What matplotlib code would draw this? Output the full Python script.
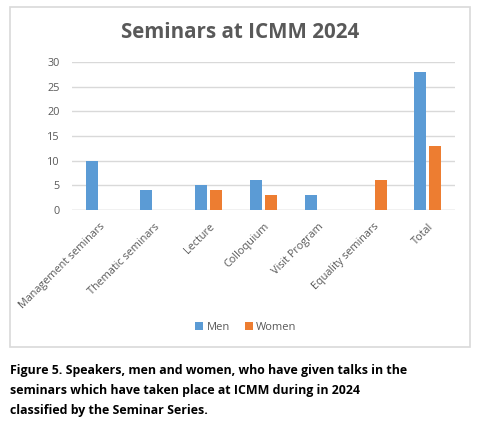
import matplotlib
matplotlib.use("Agg")
import numpy as np
from matplotlib import pyplot as plt
from matplotlib.patches import Rectangle

categories = ["Management seminars", "Thematic seminars", "Lecture", "Colloquium",
              "Visit Program", "Equality seminars", "Total"]
men = [10, 4, 5, 6, 3, 0, 28]
women = [0, 0, 4, 3, 0, 6, 13]

plt.rcParams['font.family'] = ['Open Sans', 'DejaVu Sans']

W, H = 480, 425
fig = plt.figure(figsize=(4.8, 4.25), dpi=100)

# chart frame
fig.patches.append(Rectangle((10 / W, 1 - 347 / H), 460 / W, 340 / H,
                             transform=fig.transFigure, fill=False,
                             edgecolor='#d9d9d9', linewidth=1.2))

ax = fig.add_axes([72 / W, 1 - 210 / H, 383 / W, 148 / H])
x = np.arange(len(categories))
bw = 0.22
ax.bar(x - 0.14, men, bw, color='#5b9bd5', label='Men', zorder=3)
ax.bar(x + 0.14, women, bw, color='#ed7d31', label='Women', zorder=3)

ax.set_xlim(-0.5, len(categories) - 0.5)
ax.set_ylim(0, 30)
ax.set_yticks(range(0, 31, 5))
ax.grid(axis='y', color='#d9d9d9', linewidth=1, zorder=0)
for s in ax.spines.values():
    s.set_visible(False)
ax.tick_params(length=0, colors='#595959', labelsize=7.8)
ax.tick_params(axis='y', pad=9)
ax.tick_params(axis='x', pad=8)
ax.set_xticks(x)
ax.set_xticklabels(categories, rotation=45, ha='right', rotation_mode='anchor')
ax.axhline(0, color='#d9d9d9', linewidth=1, zorder=2)

fig.text(240 / W, 1 - 33 / H, "Seminars at ICMM 2024", ha='center', va='center',
         fontsize=14.8, fontweight='bold', color='#595959')

fig.legend(loc='center', bbox_to_anchor=(246 / W, 1 - 327 / H), ncol=2, frameon=False,
           fontsize=8, handlelength=0.7, handleheight=0.7, handletextpad=0.3,
           columnspacing=1.4, labelcolor='#595959')

caption = ("Figure 5. Speakers, men and women, who have given talks in the\n"
           "seminars which have taken place at ICMM during in 2024\n"
           "classified by the Seminar Series.")
fig.text(10 / W, 1 - 364 / H, caption, ha='left', va='top', fontsize=8.9,
         fontweight='bold', color='#000000', linespacing=1.68)

fig.savefig("out.png", dpi=100)
